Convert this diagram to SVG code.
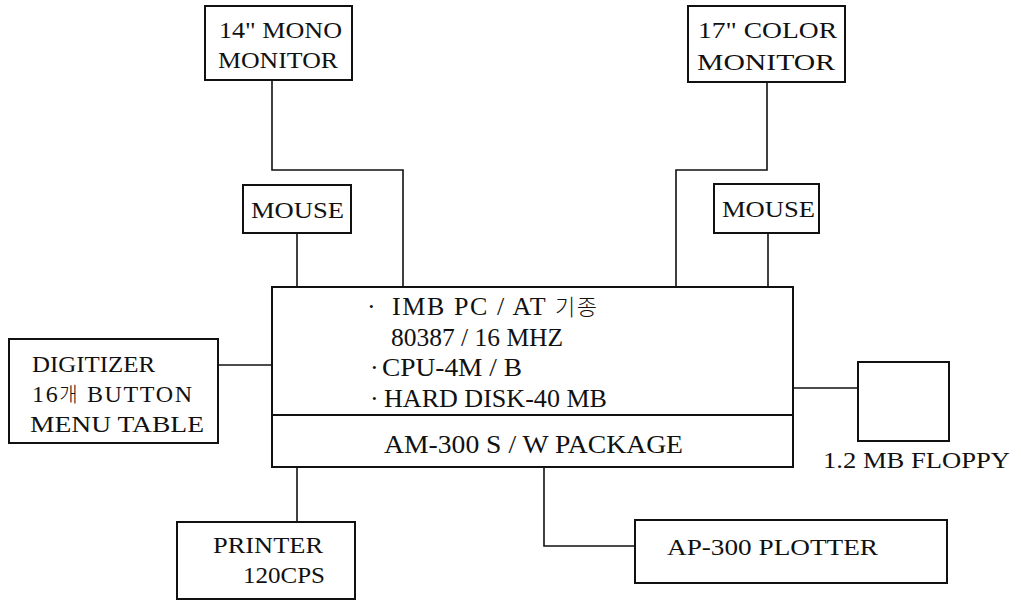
<svg xmlns="http://www.w3.org/2000/svg" width="1021" height="600" viewBox="0 0 1021 600">
<style>
.box{fill:none;stroke:#111;stroke-width:2}
.ln{fill:none;stroke:#111;stroke-width:1.6}
.t{font-family:'Liberation Serif','DejaVu Serif',serif;fill:#111;font-size:24px}
.m{font-size:26px}
.k{font-family:'Noto Sans CJK KR',sans-serif;font-weight:300}
</style>
<rect width="1021" height="600" fill="#fff"/>
<g id="connectors">
<polyline class="ln" points="272,80 272,170 403,170 403,287"/>
<polyline class="ln" points="767,82 767,170 676,170 676,287"/>
<line class="ln" x1="297" y1="233" x2="297" y2="287"/>
<line class="ln" x1="768" y1="233" x2="768" y2="287"/>
<line class="ln" x1="218" y1="365" x2="272" y2="365"/>
<line class="ln" x1="793" y1="388" x2="858" y2="388"/>
<line class="ln" x1="297" y1="467" x2="297" y2="522"/>
<polyline class="ln" points="544,467 544,546 635,546"/>
</g>
<g id="mono-monitor">
<rect class="box" x="205" y="6" width="147" height="74"/>
<text class="t" x="219" y="38" textLength="123" lengthAdjust="spacingAndGlyphs">14" MONO</text>
<text class="t" x="218" y="68" textLength="120" lengthAdjust="spacingAndGlyphs">MONITOR</text>
</g>
<g id="color-monitor">
<rect class="box" x="688" y="6" width="157" height="76"/>
<text class="t" x="698" y="38" textLength="139" lengthAdjust="spacingAndGlyphs">17" COLOR</text>
<text class="t" x="697" y="70" textLength="138" lengthAdjust="spacingAndGlyphs">MONITOR</text>
</g>
<g id="mouse-left">
<rect class="box" x="243" y="185" width="108" height="48"/>
<text class="t" x="251" y="218" textLength="93" lengthAdjust="spacingAndGlyphs">MOUSE</text>
</g>
<g id="mouse-right">
<rect class="box" x="714" y="184" width="105" height="49"/>
<text class="t" x="722" y="217" textLength="93" lengthAdjust="spacingAndGlyphs">MOUSE</text>
</g>
<g id="pc">
<rect class="box" x="272" y="287" width="521" height="180"/>
<line class="box" x1="272" y1="415" x2="793" y2="415"/>
<text class="t m" x="367" y="315">·</text>
<text class="t m" x="392" y="315" textLength="205" lengthAdjust="spacing">IMB PC / AT <tspan class="k" font-size="22">기종</tspan></text>
<text class="t m" x="391" y="346" textLength="172" lengthAdjust="spacingAndGlyphs">80387 / 16 MHZ</text>
<text class="t m" x="370" y="376">·</text>
<text class="t m" x="382" y="376" textLength="140" lengthAdjust="spacingAndGlyphs">CPU-4M / B</text>
<text class="t m" x="370" y="407">·</text>
<text class="t m" x="384" y="407" textLength="223" lengthAdjust="spacingAndGlyphs">HARD DISK-40 MB</text>
<text class="t m" x="384" y="453" textLength="299" lengthAdjust="spacingAndGlyphs">AM-300 S / W PACKAGE</text>
</g>
<g id="digitizer">
<rect class="box" x="9" y="339" width="209" height="104"/>
<text class="t" x="32" y="372" textLength="123" lengthAdjust="spacingAndGlyphs">DIGITIZER</text>
<text class="t" x="32" y="402" textLength="160" lengthAdjust="spacing">16<tspan class="k" font-size="20">개</tspan> BUTTON</text>
<text class="t" x="30" y="432" textLength="174" lengthAdjust="spacingAndGlyphs">MENU TABLE</text>
</g>
<g id="floppy">
<rect class="box" x="858" y="362" width="91" height="79"/>
<text class="t" x="823" y="468" textLength="187" lengthAdjust="spacingAndGlyphs">1.2 MB FLOPPY</text>
</g>
<g id="printer">
<rect class="box" x="177" y="522" width="178" height="77"/>
<text class="t" x="213" y="553" textLength="110" lengthAdjust="spacingAndGlyphs">PRINTER</text>
<text class="t" x="243" y="583" textLength="82" lengthAdjust="spacingAndGlyphs">120CPS</text>
</g>
<g id="plotter">
<rect class="box" x="635" y="520" width="312" height="63"/>
<text class="t" x="667" y="555" textLength="211" lengthAdjust="spacingAndGlyphs">AP-300 PLOTTER</text>
</g>
</svg>
